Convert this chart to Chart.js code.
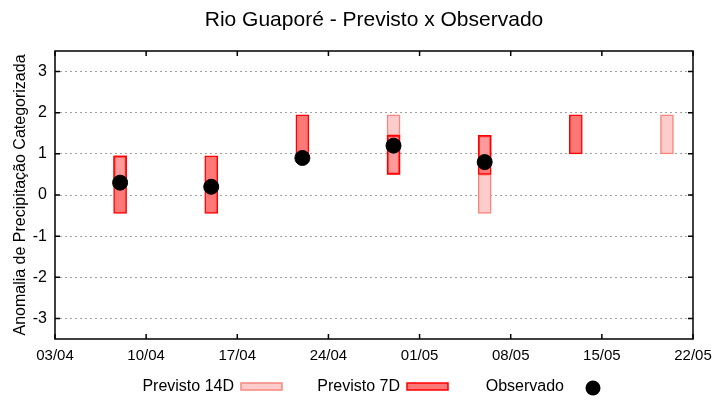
<!DOCTYPE html>
<html>
<head>
<meta charset="utf-8">
<script src="https://cdn.jsdelivr.net/npm/chart.js@4.4.1/dist/chart.umd.min.js"></script>
<style>
  body { margin: 0; background: #fff; }
  #wrap { width: 720px; height: 400px; }
</style>
</head>
<body>
<div id="wrap"><canvas id="myChart" width="720" height="400"></canvas></div>
<script>
// tick labels (dd/mm)
const xTickLabels = ['03/04', '10/04', '17/04', '24/04', '01/05', '08/05', '15/05', '22/05'];
const yTicks = [-3, -2, -1, 0, 1, 2, 3];

// Previsto 7D boxes
const prev7Dates = ['08/04', '15/04', '22/04', '29/04', '06/05', '13/05'];
const prev7Low = [-0.45, -0.45, 1.0, 0.5, 0.5, 1.0];
const prev7High = [0.95, 0.95, 1.95, 1.45, 1.45, 1.95];

// Previsto 14D boxes
const prev14Dates = ['29/04', '06/05', '20/05'];
const prev14Low = [1.45, -0.45, 1.0];
const prev14High = [1.95, 0.5, 1.95];

// lighter (overlapping) parts of the 7D boxes
const overlapDates = ['08/04', '29/04', '06/05'];
const overlapLow = [0.3, 0.5, 0.8];
const overlapHigh = [0.95, 1.45, 1.45];

// Observado
const obsDates = ['08/04', '15/04', '22/04', '29/04', '06/05'];
const obsValues = [0.3, 0.2, 0.9, 1.2, 0.8];

const FONT = '"Liberation Sans", Arial, sans-serif';

// days since 03/04
const dayOf = function(s) {
    const p = s.split('/').map(Number);
    return (Date.UTC(2000, p[1] - 1, p[0]) - Date.UTC(2000, 3, 3)) / 86400000;
}

const toRanges = function(dates, lo, hi) {
    return dates.map((d, i) => ({x: dayOf(d), y: [lo[i], hi[i]]}));
}

const frame = {
    id: 'frame',
    afterDraw(chart) {
        const ctx = chart.ctx;
        const a = chart.chartArea;
        const xs = chart.scales.x, ys = chart.scales.y;
        ctx.save();
        ctx.strokeStyle = '#000';
        ctx.lineWidth = 1.5;
        ctx.strokeRect(a.left, a.top, a.right - a.left, a.bottom - a.top);
        ctx.beginPath();
        yTicks.forEach(v => {
            const y = ys.getPixelForValue(v);
            ctx.moveTo(a.left, y); ctx.lineTo(a.left + 5, y);
            ctx.moveTo(a.right, y); ctx.lineTo(a.right - 5, y);
        });
        xTickLabels.forEach(l => {
            const x = xs.getPixelForValue(dayOf(l));
            ctx.moveTo(x, a.bottom); ctx.lineTo(x, a.bottom - 5);
            ctx.moveTo(x, a.top); ctx.lineTo(x, a.top + 5);
        });
        ctx.stroke();

        // title
        ctx.fillStyle = '#000';
        ctx.font = '21px ' + FONT;
        ctx.textAlign = 'center';
        ctx.textBaseline = 'middle';
        ctx.fillText('Rio Guaporé - Previsto x Observado', (a.left + a.right) / 2, 20);

        // legend (text first, sample after, like gnuplot)
        const ds = chart.data.datasets;
        ctx.font = '16px ' + FONT;
        ctx.textAlign = 'right';
        const ly = 386;
        const items = [[ds[0], 234, 241], [ds[1], 400, 407]];
        items.forEach(it => {
            ctx.fillStyle = '#000';
            ctx.fillText(it[0].label, it[1], ly + 1);
            ctx.fillStyle = it[0].backgroundColor;
            ctx.fillRect(it[2], ly - 3, 41, 7);
            ctx.strokeStyle = it[0].borderColor;
            ctx.lineWidth = 1.5;
            ctx.strokeRect(it[2], ly - 3, 41, 7);
        });
        ctx.fillStyle = '#000';
        ctx.fillText(ds[3].label, 564, ly + 1);
        ctx.beginPath();
        ctx.arc(593, ly + 2, 7.5, 0, Math.PI * 2);
        ctx.fill();
        ctx.restore();
    }
};

const boxStyle = {borderWidth: 1.5, borderSkipped: false, grouped: false, barThickness: 13};

new Chart(document.getElementById('myChart').getContext('2d'), {
    type: 'bar',
    data: {
        datasets: [
            Object.assign({label: 'Previsto 14D', data: toRanges(prev14Dates, prev14Low, prev14High),
                backgroundColor: '#ffcccc', borderColor: '#f7867e', order: 3}, boxStyle),
            Object.assign({label: 'Previsto 7D', data: toRanges(prev7Dates, prev7Low, prev7High),
                backgroundColor: '#ff7878', borderColor: '#ff0000', order: 2}, boxStyle),
            Object.assign({label: 'overlap', data: toRanges(overlapDates, overlapLow, overlapHigh),
                backgroundColor: 'rgba(255,255,255,0.25)', borderColor: '#ff0000', order: 1}, boxStyle),
            {
                type: 'scatter',
                label: 'Observado',
                data: obsDates.map((d, i) => ({x: dayOf(d), y: obsValues[i]})),
                backgroundColor: '#000',
                borderColor: '#000',
                pointRadius: 7.5,
                order: 0
            }
        ]
    },
    options: {
        responsive: false,
        animation: false,
        layout: {padding: {top: 51, right: 27, left: 0, bottom: 0}},
        plugins: {legend: {display: false}, tooltip: {enabled: false}},
        scales: {
            x: {
                type: 'linear',
                offset: false,
                min: 0,
                max: 49,
                grid: {display: false},
                border: {display: false},
                afterBuildTicks: s => { s.ticks = xTickLabels.map(l => ({value: dayOf(l)})); },
                afterFit: s => { s.height = 61; },
                ticks: {
                    callback: (v, i) => xTickLabels[i],
                    font: {family: FONT, size: 15},
                    color: '#000',
                    padding: 0,
                    maxRotation: 0,
                    autoSkip: false
                }
            },
            y: {
                min: -3.5,
                max: 3.5,
                afterBuildTicks: s => { s.ticks = yTicks.map(v => ({value: v})); },
                afterFit: s => { s.width = 55; },
                grid: {color: '#a0a0a0', drawTicks: false, lineWidth: 1},
                border: {display: false, dash: [2, 3]},
                ticks: {font: {family: FONT, size: 16}, color: '#000', padding: 8},
                title: {
                    display: true,
                    text: 'Anomalia de Precipitação Categorizada',
                    font: {family: FONT, size: 16},
                    color: '#000',
                    padding: {top: 11, bottom: 0}
                }
            }
        }
    },
    plugins: [frame]
});
</script>
</body>
</html>
